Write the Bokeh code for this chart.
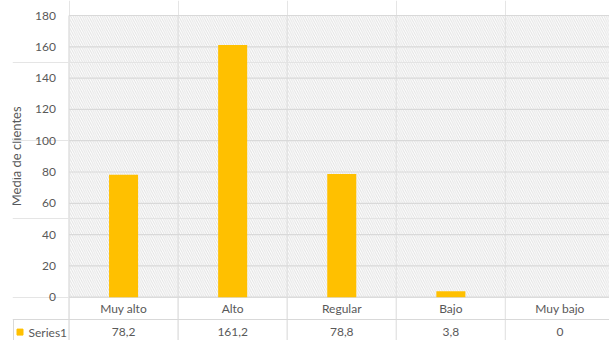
import math
from bokeh.plotting import figure
from bokeh.models import Range1d, LinearAxis, FixedTicker, Grid
from bokeh.embed import file_html
from bokeh.resources import INLINE
from bokeh.core.properties import value

categories = ["Muy alto", "Alto", "Regular", "Bajo", "Muy bajo"]
values = [78.2, 161.2, 78.8, 3.8, 0]
series_name = "Series1"
y_ticks = [0, 20, 40, 60, 80, 100, 120, 140, 160, 180]
y_title = "Media de clientes"

FONT = "Lato"
TEXT = "#595959"
GRID = "#d9d9d9"
BAR = "#FFC000"

n = len(categories)
centers = [i + 0.5 for i in range(n)]
bounds = list(range(n + 1))
value_labels = [f"{v:g}".replace(".", ",") for v in values]

X_LEFT = -0.5179
PX = 109.1  # px per category
ROW_SPLIT = -14.1
ROW_VAL = -22.3
Y_BOTTOM = -27.67
Y_TOP = 189.6

p = figure(width=609, height=340, output_backend="svg", toolbar_location=None,
           x_range=Range1d(X_LEFT, 4.954), y_range=Range1d(Y_BOTTOM, Y_TOP),
           x_axis_location=None, y_axis_location=None,
           min_border_left=12, min_border_right=0, min_border_top=0, min_border_bottom=0)
p.outline_line_color = None
p.background_fill_color = "white"
p.border_fill_color = "white"

# hatched plot area
p.quad(left=bounds[0], right=bounds[-1], bottom=y_ticks[0], top=y_ticks[-1],
       fill_color=None, line_color=None, hatch_pattern="\\", hatch_color="#e2e2e2",
       hatch_scale=4.5, hatch_weight=1)

# row separator of the data table
rgrid = Grid(dimension=1, ticker=FixedTicker(ticks=[ROW_SPLIT]), grid_line_color=GRID, grid_line_width=1)
p.add_layout(rgrid)

# horizontal grid lines within plot area
p.segment(x0=[bounds[0]] * len(y_ticks), x1=[bounds[-1]] * len(y_ticks), y0=y_ticks, y1=y_ticks,
          line_color=GRID, line_width=1.2)
# vertical grid lines (category borders, from plot top through the table)
p.segment(x0=bounds, x1=bounds, y0=[Y_BOTTOM] * len(bounds), y1=[y_ticks[-1]] * len(bounds),
          line_color=GRID, line_width=1.2, level="underlay")
# left border of the legend cell
p.segment(x0=[X_LEFT + 1.0 / PX], x1=[X_LEFT + 1.0 / PX], y0=[Y_BOTTOM], y1=[ROW_SPLIT],
          line_color=GRID, line_width=1)

# bars
p.vbar(x=centers, top=values, width=0.266, fill_color=BAR, line_color=None)

# axes
yaxis = LinearAxis(ticker=FixedTicker(ticks=y_ticks), fixed_location=bounds[0],
                   axis_line_color=None, major_tick_line_color=None, minor_tick_line_color=None,
                   major_tick_out=0, major_tick_in=0,
                   major_label_text_font=FONT, major_label_text_font_size="12px",
                   major_label_text_color=TEXT, major_label_standoff=13)
p.add_layout(yaxis, "left")

xaxis = LinearAxis(ticker=FixedTicker(ticks=centers), fixed_location=y_ticks[0],
                   major_label_overrides={c: name for c, name in zip(centers, categories)},
                   axis_line_color=None, major_tick_line_color=None, minor_tick_line_color=None,
                   major_tick_out=0, major_tick_in=0,
                   major_label_text_font=FONT, major_label_text_font_size="12px",
                   major_label_text_color=TEXT, major_label_standoff=4)
p.add_layout(xaxis, "below")

# y title
p.text(x=[X_LEFT + 3.0 / PX], y=[(y_ticks[0] + y_ticks[-1]) / 2], text=[y_title], angle=math.pi / 2,
       text_align="center", text_baseline="middle", text_font=value(FONT),
       text_font_size="13px", text_color=TEXT)

# data table row
p.scatter(x=[X_LEFT + 7.5 / PX], y=[ROW_VAL], marker="square", size=6, color=BAR)
p.text(x=[X_LEFT + 16.0 / PX], y=[ROW_VAL], text=[series_name], text_align="left",
       text_baseline="middle", text_font=value(FONT), text_font_size="12px", text_color=TEXT)
p.text(x=centers, y=[ROW_VAL] * n, text=value_labels, text_align="center",
       text_baseline="middle", text_font=value(FONT), text_font_size="12px", text_color=TEXT)

open("out.html", "w").write(file_html(p, INLINE))
